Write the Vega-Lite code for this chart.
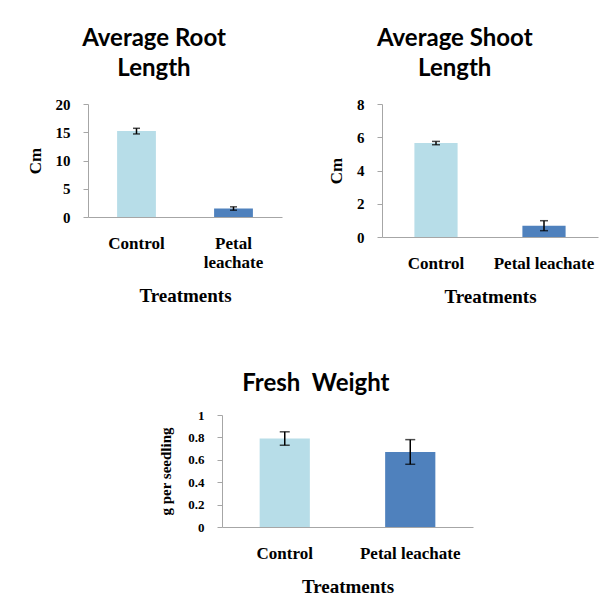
{
  "$schema": "https://vega.github.io/schema/vega-lite/v6.json",
  "background": "white",
  "padding": {"left": 26, "top": 27, "right": 5, "bottom": 5},
  "config": {
    "view": {"stroke": null},
    "title": {"font": "Lato", "fontSize": 24, "fontWeight": "bold", "color": "black", "lineHeight": 30, "anchor": "middle", "frame": "bounds", "offset": 16},
    "axis": {
      "domainColor": "#A6A6A6", "tickColor": "#A6A6A6", "grid": false,
      "labelFont": "Liberation Serif", "labelFontWeight": "bold", "labelColor": "black",
      "titleFont": "Liberation Serif", "titleFontWeight": "bold", "titleColor": "black"
    },
    "axisX": {"ticks": false, "labelAngle": 0, "labelFontSize": 17, "labelPadding": 18, "labelLineHeight": 19, "titleFontSize": 19, "titlePadding": 16},
    "axisY": {"tickSize": 5, "labelFontSize": 15, "labelPadding": 13, "titleFontSize": 17, "titlePadding": 11}
  },
  "spacing": 66,
  "vconcat": [
    {
      "spacing": 45,
      "hconcat": [
        {
          "title": {"text": ["Average Root", "Length"]},
          "width": 194,
          "height": 113,
          "data": {"values": [
            {"treatment": "Control", "mean": 15.2, "se": 0.5},
            {"treatment": "Petal leachate", "mean": 1.5, "se": 0.3}
          ]},
          "encoding": {
            "x": {"field": "treatment", "type": "nominal", "sort": null,
              "scale": {"paddingInner": 0.6, "paddingOuter": 0.3},
              "axis": {"title": "Treatments", "labelExpr": "split(datum.label, ' ')"}},
            "y": {"field": "mean", "type": "quantitative",
              "scale": {"domain": [0, 20], "nice": false},
              "axis": {"title": "Cm", "values": [0, 5, 10, 15, 20]}}
          },
          "layer": [
            {"mark": {"type": "bar"},
              "encoding": {"color": {"field": "treatment", "type": "nominal",
                "scale": {"domain": ["Control", "Petal leachate"], "range": ["#B7DDE8", "#4F81BD"]}, "legend": null}}},
            {"mark": {"type": "errorbar", "ticks": true, "size": 7, "thickness": 1.5, "color": "black"},
              "encoding": {"yError": {"field": "se"}}}
          ]
        },
        {
          "title": {"text": ["Average Shoot", "Length"], "dx": -8},
          "width": 216,
          "height": 133,
          "data": {"values": [
            {"treatment": "Control", "mean": 5.65, "se": 0.1},
            {"treatment": "Petal leachate", "mean": 0.68, "se": 0.3}
          ]},
          "encoding": {
            "x": {"field": "treatment", "type": "nominal", "sort": null,
              "scale": {"paddingInner": 0.6, "paddingOuter": 0.3},
              "axis": {"title": "Treatments"}},
            "y": {"field": "mean", "type": "quantitative",
              "scale": {"domain": [0, 8], "nice": false},
              "axis": {"title": "Cm", "values": [0, 2, 4, 6, 8]}}
          },
          "layer": [
            {"mark": {"type": "bar"},
              "encoding": {"color": {"field": "treatment", "type": "nominal",
                "scale": {"domain": ["Control", "Petal leachate"], "range": ["#B7DDE8", "#4F81BD"]}, "legend": null}}},
            {"mark": {"type": "errorbar", "ticks": true, "size": 8, "thickness": 1.5, "color": "black"},
              "encoding": {"yError": {"field": "se"}}}
          ]
        }
      ]
    },
    {
      "spacing": 0,
      "hconcat": [
        {
          "width": 70,
          "height": 10,
          "data": {"values": []},
          "mark": {"type": "point", "opacity": 0}
        },
        {
          "title": {"text": "Fresh\u00a0 Weight", "offset": 13},
          "width": 251,
          "height": 112,
          "data": {"values": [
            {"treatment": "Control", "mean": 0.79, "se": 0.06},
            {"treatment": "Petal leachate", "mean": 0.67, "se": 0.11}
          ]},
          "encoding": {
            "x": {"field": "treatment", "type": "nominal", "sort": null,
              "scale": {"paddingInner": 0.6, "paddingOuter": 0.3},
              "axis": {"title": "Treatments"}},
            "y": {"field": "mean", "type": "quantitative",
              "scale": {"domain": [0, 1], "nice": false},
              "axis": {"title": "g per seedling", "values": [0, 0.2, 0.4, 0.6, 0.8, 1], "format": ".1~f", "labelFontSize": 13, "labelPadding": 13, "titleFontSize": 15, "titlePadding": 14}}
          },
          "layer": [
            {"mark": {"type": "bar"},
              "encoding": {"color": {"field": "treatment", "type": "nominal",
                "scale": {"domain": ["Control", "Petal leachate"], "range": ["#B7DDE8", "#4F81BD"]}, "legend": null}}},
            {"mark": {"type": "errorbar", "ticks": true, "size": 10, "thickness": 1.5, "color": "black"},
              "encoding": {"yError": {"field": "se"}}}
          ]
        }
      ]
    }
  ]
}
